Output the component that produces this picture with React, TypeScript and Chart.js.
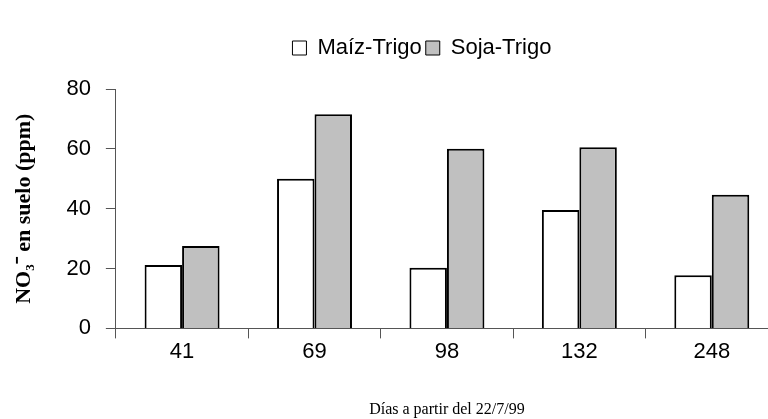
import React, { useEffect, useRef } from "react";
import { Chart, registerables } from "chart.js";

Chart.register(...registerables);

const categories = ["41", "69", "98", "132", "248"];
const maizTrigo = [21.2, 50, 20.3, 39.6, 17.8];
const sojaTrigo = [27.5, 71.6, 60, 60.5, 44.7];
const yTicks = [0, 20, 40, 60, 80];
const seriesNames = ["Maíz-Trigo", "Soja-Trigo"];
const yTitle = "NO₃⁻ en suelo (ppm)";
const xTitle = "Días a partir del 22/7/99";

const legendTweak = {
  id: "legendTweak",
  beforeInit(chart: any) {
    const legend = chart.legend;
    if (!legend) return;
    const fit = legend.fit;
    legend.fit = function () {
      fit.bind(this)();
      this.height += 20;
    };
  },
  afterLayout(chart: any) {
    const legend = chart.legend;
    if (!legend) return;
    legend.left -= 25;
    legend.right -= 25;
  },
};

export default function App() {
  const ref = useRef<HTMLCanvasElement | null>(null);
  useEffect(() => {
    if (!ref.current) return;
    const sans = "'Liberation Sans', Arial, sans-serif";
    const serif = "'Liberation Serif', 'Times New Roman', serif";
    const chart = new Chart(ref.current, {
      type: "bar",
      data: {
        labels: categories,
        datasets: [
          {
            label: seriesNames[0],
            data: maizTrigo,
            backgroundColor: "#ffffff",
            borderColor: "#000000",
            borderWidth: 2,
            categoryPercentage: 0.566,
            barPercentage: 1,
          },
          {
            label: seriesNames[1],
            data: sojaTrigo,
            backgroundColor: "#c0c0c0",
            borderColor: "#000000",
            borderWidth: 2,
            categoryPercentage: 0.566,
            barPercentage: 1,
          },
        ],
      },
      plugins: [legendTweak],
      options: {
        responsive: false,
        animation: false,
        layout: { padding: { top: 33, left: 11, right: 0, bottom: 0 } },
        plugins: {
          tooltip: { enabled: false },
          legend: {
            position: "top",
            fullSize: false,
            labels: {
              font: { family: sans, size: 22 },
              color: "#000",
              boxWidth: 14,
              boxHeight: 14,
              padding: 4,
              generateLabels: (c: any) =>
                c.data.datasets.map((d: any, i: number) => ({
                  text: d.label,
                  fillStyle: d.backgroundColor,
                  strokeStyle: "#000",
                  lineWidth: 1,
                  hidden: false,
                  datasetIndex: i,
                  fontColor: "#000",
                })),
            },
          },
        },
        scales: {
          x: {
            grid: {
              offset: true,
              drawOnChartArea: false,
              drawTicks: true,
              tickLength: 10,
              color: "#555",
            },
            border: { color: "#555", width: 1 },
            ticks: { font: { family: sans, size: 22 }, color: "#000", padding: 0 },
            title: {
              display: true,
              text: xTitle,
              font: { family: serif, size: 16 },
              color: "#000",
              padding: { top: 35, bottom: 0 },
            },
          },
          y: {
            min: 0,
            max: 80,
            afterBuildTicks: (axis: any) => {
              axis.ticks = yTicks.map((v) => ({ value: v }));
            },
            grid: {
              drawOnChartArea: false,
              drawTicks: true,
              tickLength: 10,
              color: "#555",
            },
            border: { color: "#555", width: 1 },
            ticks: { font: { family: sans, size: 22 }, color: "#000", padding: 15 },
            title: {
              display: true,
              text: yTitle,
              font: { family: serif, size: 22, weight: "bold" },
              color: "#000",
              padding: { top: 0, bottom: 14 },
            },
          },
        },
      },
    } as any);
    return () => chart.destroy();
  }, []);
  return (
    <div
      style={{
        position: "fixed",
        left: 0,
        top: 0,
        width: 768,
        height: 419,
        overflow: "hidden",
        background: "#fff",
      }}
    >
      <canvas ref={ref} width={778} height={419} style={{ width: 778, height: 419, display: "block" }} />
    </div>
  );
}
